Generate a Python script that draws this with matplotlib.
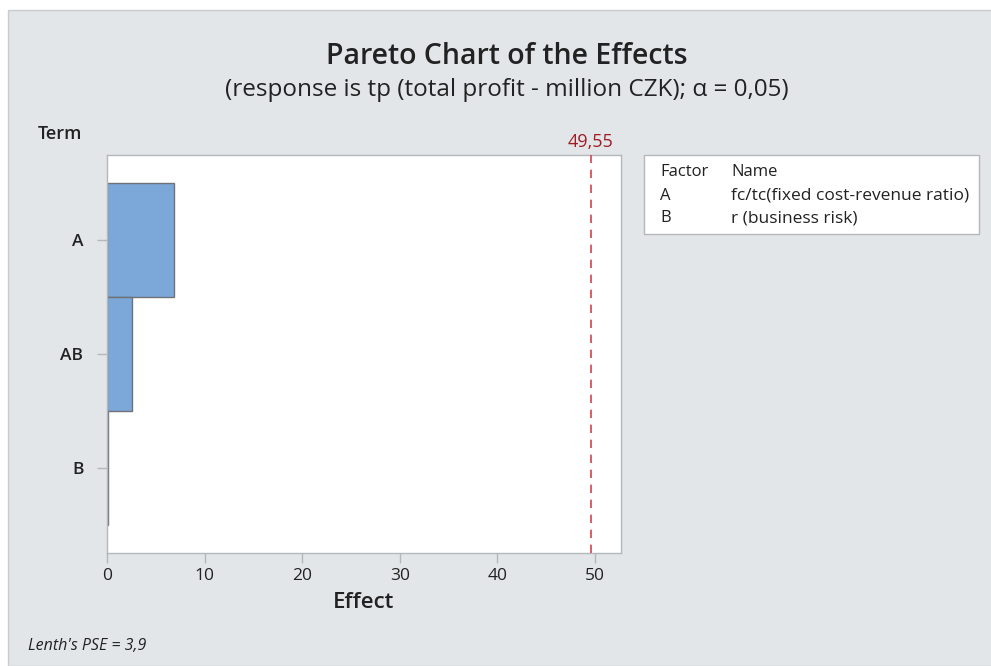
import matplotlib.pyplot as plt
from matplotlib.patches import Rectangle

plt.rcParams['font.family'] = ['Open Sans', 'DejaVu Sans']

# data
terms = ['A', 'AB', 'B']
effects = [6.86, 2.56, 0.08]
critical = 49.55
factors = ['A', 'B']
factor_names = ['fc/tc(fixed cost-revenue ratio)', 'r (business risk)']
pse = '3,9'

fig = plt.figure(figsize=(9.91, 6.66), dpi=100)
fig.patch.set_facecolor('white')

# grey panel behind everything
fig.patches.append(Rectangle((8 / 991, 0), 1, 1 - 10 / 666, transform=fig.transFigure,
                             facecolor='#e2e6e8', edgecolor='#c8cccf', lw=1, zorder=-2))

ax = fig.add_axes([107 / 991, 1 - 553 / 666, (621 - 107) / 991, (553 - 155) / 666])
ax.set_zorder(2)
ax.set_facecolor('white')

pos = list(range(len(terms)))
ax.barh(pos, effects, height=1.0, color='#7ba7d9', edgecolor='#6f7378', lw=1, zorder=2)
ax.axvline(critical, color='#d2444f', ls=(0, (5, 4)), lw=1.2, zorder=3)

ax.set_xlim(0, 52.66)
ax.set_ylim(2.746, -0.746)
ax.set_yticks(pos)
ax.set_yticklabels(terms, fontweight='semibold')
ax.set_xticks([0, 10, 20, 30, 40, 50])

for s in ax.spines.values():
    s.set_color('#b4b8bc')
    s.set_linewidth(1)
ax.tick_params(colors='#b4b8bc', labelcolor='#222222', labelsize=12.5, length=7, width=1)
ax.tick_params(axis='y', pad=10)

ax.set_xlabel('Effect', fontsize=16, fontweight='semibold', color='#222222', labelpad=6)
ax.text(critical, -0.78, '49,55', color='#a01c24', fontsize=13, ha='center', va='bottom')

fig.text(38 / 991, 1 - 134 / 666, 'Term', fontsize=13, fontweight='semibold',
         color='#222222', va='center')
fig.text(0.5115, 1 - 56 / 666, 'Pareto Chart of the Effects', fontsize=20.5,
         fontweight='semibold', color='#222222', ha='center', va='center')
fig.text(0.5115, 1 - 90 / 666, '(response is tp (total profit - million CZK); \u03b1 = 0,05)',
         fontsize=17.5, color='#222222', ha='center', va='center')
fig.text(28 / 991, 1 - 646 / 666, "Lenth's PSE = " + pse, fontsize=11.5, style='italic',
         color='#222222', va='center')

# factor legend box
fig.patches.append(Rectangle((644 / 991, 1 - 234 / 666), (979 - 644) / 991, (234 - 155) / 666,
                             transform=fig.transFigure, facecolor='white',
                             edgecolor='#b4b8bc', lw=1, zorder=-1))
fig.text(660 / 991, 1 - 172 / 666, 'Factor', fontsize=12, color='#222222', va='center')
fig.text(731 / 991, 1 - 172 / 666, 'Name', fontsize=12, color='#222222', va='center')
for i, (f, n) in enumerate(zip(factors, factor_names)):
    y = 1 - (196 + 22 * i) / 666
    fig.text(660 / 991, y, f, fontsize=12, color='#222222', va='center')
    fig.text(731 / 991, y, n, fontsize=12.5, color='#222222', va='center')

fig.savefig('out.png', dpi=100, facecolor=fig.get_facecolor())
